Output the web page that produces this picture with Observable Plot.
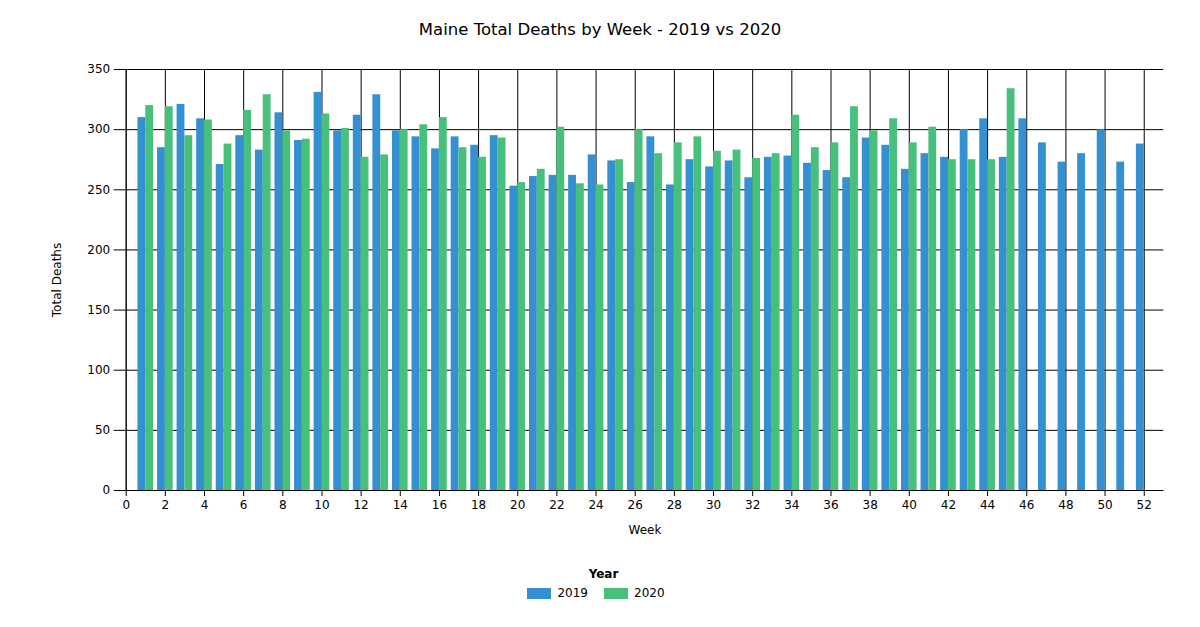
<!DOCTYPE html>
<html>
<head>
<meta charset="utf-8">
<script src="https://cdn.jsdelivr.net/npm/d3@7"></script>
<script src="https://cdn.jsdelivr.net/npm/@observablehq/plot@0.6"></script>
<style>
  body { margin: 0; width: 1200px; height: 627px; background: #fff; font-family: "DejaVu Sans", Verdana, sans-serif; color: #000; overflow: hidden; }
  #title { height: 50px; box-sizing: border-box; padding-top: 21px; line-height: 18px; text-align: center; font-size: 16.5px; }
  #chart svg { display: block; }
  #legend { text-align: center; font-size: 12px; }
  #legend .ttl { font-weight: bold; margin-top: 12px; line-height: 14px; padding-left: 7px; }
  #legend .row { margin-top: 5px; display: flex; justify-content: center; align-items: center; padding-right: 8px; }
  #legend .sw { display: inline-block; width: 24px; height: 11px; margin-right: 6px; }
  #legend .item { display: inline-flex; align-items: center; margin: 0 8px; }
</style>
</head>
<body>
<div id="title">Maine Total Deaths by Week - 2019 vs 2020</div>
<div id="chart"></div>
<div id="legend"></div>
<script>
const years = [2019, 2020];
const colors = ["#3490d0", "#47c07b"];
const weeks2019 = [1,2,3,4,5,6,7,8,9,10,11,12,13,14,15,16,17,18,19,20,21,22,23,24,25,26,27,28,29,30,31,32,33,34,35,36,37,38,39,40,41,42,43,44,45,46,47,48,49,50,51,52];
const deaths2019 = [310,285,321,309,271,295,283,314,291,331,299,312,329,299,294,284,294,287,295,253,261,262,262,279,274,256,294,254,275,269,274,260,277,278,272,266,260,293,287,267,280,277,300,309,277,309,289,273,280,300,273,288];
const weeks2020 = [1,2,3,4,5,6,7,8,9,10,11,12,13,14,15,16,17,18,19,20,21,22,23,24,25,26,27,28,29,30,31,32,33,34,35,36,37,38,39,40,41,42,43,44,45];
const deaths2020 = [320,319,295,308,288,316,329,299,292,313,301,277,279,300,304,310,285,277,293,256,267,302,255,254,275,300,280,289,294,282,283,276,280,312,285,289,319,299,309,289,302,275,275,275,334];
const yTicks = [0,50,100,150,200,250,300,350];
const xTicks = [0,2,4,6,8,10,12,14,16,18,20,22,24,26,28,30,32,34,36,38,40,42,44,46,48,50,52];

const rows = [
  ...weeks2019.map((w, i) => ({week: w, year: 2019, deaths: deaths2019[i]})),
  ...weeks2020.map((w, i) => ({week: w, year: 2020, deaths: deaths2020[i]}))
];
const half = 0.4;

const chart = Plot.plot({
  width: 1200,
  height: 505,
  marginTop: 19,
  marginLeft: 125.7,
  marginRight: 36.7,
  marginBottom: 65,
  style: {fontFamily: "'DejaVu Sans', Verdana, sans-serif", fontSize: "12px", color: "#000", background: "#fff"},
  x: {domain: [0, 53]},
  y: {domain: [0, 350]},
  color: {domain: years, range: colors},
  marks: [
    Plot.gridY(yTicks, {stroke: "#000", strokeOpacity: 1}),
    Plot.gridX(xTicks, {stroke: "#000", strokeOpacity: 1}),
    Plot.rectY(rows, {
      x1: d => d.year === 2019 ? d.week - half : d.week,
      x2: d => d.year === 2019 ? d.week : d.week + half,
      y1: 0,
      y2: "deaths",
      fill: d => d.year
    }),
    Plot.ruleY([0], {stroke: "#000"}),
    Plot.ruleX([0], {stroke: "#000"}),
    Plot.axisY(yTicks, {tickSize: 12, tickPadding: 4, label: "Total Deaths", labelAnchor: "center", labelArrow: "none", labelOffset: 74, stroke: "#000", fill: "#000"}),
    Plot.axisX(xTicks, {tickSize: 6, tickPadding: 4, label: "Week", labelAnchor: "center", labelArrow: "none", labelOffset: 43, stroke: "#000", fill: "#000"})
  ]
});
document.getElementById("chart").appendChild(chart);

const legend = document.getElementById("legend");
const ttl = document.createElement("div");
ttl.className = "ttl";
ttl.textContent = "Year";
legend.appendChild(ttl);
const row = document.createElement("div");
row.className = "row";
years.forEach((y, i) => {
  const item = document.createElement("span");
  item.className = "item";
  const sw = document.createElement("span");
  sw.className = "sw";
  sw.style.background = colors[i];
  item.appendChild(sw);
  item.appendChild(document.createTextNode(String(y)));
  row.appendChild(item);
});
legend.appendChild(row);
</script>
</body>
</html>
